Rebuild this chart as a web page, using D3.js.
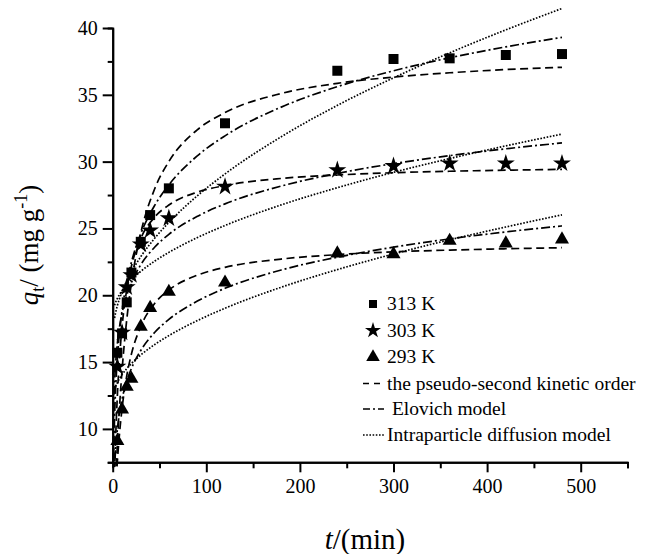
<!DOCTYPE html>
<html>
<head>
<meta charset="utf-8">
<script src="https://cdn.jsdelivr.net/npm/d3@7/dist/d3.min.js"></script>
<style>
  html, body { margin: 0; padding: 0; background: #fff; }
  svg { display: block; }
  text { font-family: "Liberation Serif", "Times New Roman", serif; fill: #000; }
</style>
</head>
<body>
<svg id="chart" width="647" height="554"></svg>
<script>
// ---------- data ----------
const tData = [5, 10, 15, 20, 30, 40, 60, 120, 240, 300, 360, 420, 480];
const q313 = [15.7, 17.15, 19.47, 21.7, 24.0, 26.0, 28.0, 32.87, 36.8, 37.68, 37.73, 37.98, 38.05];
const q303 = [14.65, 17.2, 20.6, 21.5, 23.8, 24.85, 25.76, 28.12, 29.37, 29.67, 29.87, 29.87, 29.87];
const q293 = [9.1, 11.45, 13.15, 13.75, 17.65, 19.05, 20.26, 20.95, 23.13, 23.08, 24.08, 23.88, 24.18];

// fitted-curve sample times and read curve values
const tFit = [0.3, 1, 2, 3, 4, 5, 7, 10, 15, 20, 30, 45, 60, 90, 120, 180, 240, 300, 360, 420, 480];
const pso313 = [0.66, 2.17, 4.11, 5.85, 7.42, 8.85, 11.34, 14.38, 18.17, 20.92, 24.65, 27.99, 30.01, 32.36, 33.67, 35.10, 35.86, 36.33, 36.65, 36.89, 37.06];
const pso303 = [1.24, 3.77, 6.69, 9.02, 10.93, 12.52, 15.01, 17.64, 20.42, 22.17, 24.25, 25.86, 26.75, 27.71, 28.21, 28.74, 29.00, 29.17, 29.28, 29.36, 29.42];
const pso293 = [0.64, 2.03, 3.74, 5.20, 6.47, 7.58, 9.42, 11.53, 13.96, 15.60, 17.67, 19.40, 20.39, 21.49, 22.09, 22.71, 23.04, 23.25, 23.38, 23.48, 23.56];
const elo313 = [3.71, 7.83, 10.87, 12.80, 14.21, 15.32, 17.02, 18.86, 20.96, 22.47, 24.60, 26.74, 28.26, 30.41, 31.93, 34.08, 35.61, 36.80, 37.77, 38.59, 39.30];
const elo303 = [7.48, 11.20, 13.42, 14.74, 15.68, 16.40, 17.50, 18.67, 20.00, 20.95, 22.28, 23.61, 24.56, 25.89, 26.84, 28.17, 29.12, 29.85, 30.45, 30.96, 31.40];
const elo293 = [2.50, 5.19, 7.15, 8.38, 9.27, 9.98, 11.07, 12.23, 13.57, 14.52, 15.87, 17.23, 18.19, 19.55, 20.52, 21.89, 22.85, 23.60, 24.22, 24.74, 25.19];
const ipd313 = [null, null, 18.30, 18.66, 18.96, 19.23, 19.69, 20.27, 21.08, 21.75, 22.89, 24.28, 25.45, 27.42, 29.08, 31.86, 34.21, 36.27, 38.14, 39.86, 41.46];
const ipd303 = [null, null, 19.25, 19.45, 19.62, 19.77, 20.02, 20.35, 20.79, 21.17, 21.79, 22.56, 23.21, 24.30, 25.22, 26.76, 28.05, 29.20, 30.23, 31.18, 32.06];
const ipd293 = [null, null, 12.94, 13.15, 13.32, 13.47, 13.73, 14.06, 14.51, 14.89, 15.53, 16.32, 16.98, 18.09, 19.03, 20.60, 21.92, 23.09, 24.15, 25.11, 26.02];

const xMajor = [0, 100, 200, 300, 400, 500];
const xMinor = [50, 150, 250, 350, 450, 550];
const yMajor = [10, 15, 20, 25, 30, 35, 40];
const yMinor = [7.5, 12.5, 17.5, 22.5, 27.5, 32.5, 37.5];

const seriesNames = ["313 K", "303 K", "293 K"];
const modelNames = ["the pseudo-second kinetic order", " Elovich model", "Intraparticle diffusion model"];

// ---------- drawing ----------
const svg = d3.select("#chart");
const x = d3.scaleLinear().domain([0, 550]).range([112.7, 627.5]);
const y = d3.scaleLinear().domain([7.5, 40]).range([462.3, 28]);

const dashStyles = ["8,4.5", "9,3,2,3", "1.6,1.6"];

svg.append("defs").append("clipPath").attr("id", "clip")
  .append("rect").attr("x", 112).attr("y", 0).attr("width", 535).attr("height", 467);

const line = d3.line()
  .defined(d => d[1] !== null)
  .x(d => x(d[0])).y(d => y(d[1]))
  .curve(d3.curveMonotoneX);

const fits = [
  [pso313, 0], [pso303, 0], [pso293, 0],
  [elo313, 1], [elo303, 1], [elo293, 1],
  [ipd313, 2], [ipd303, 2], [ipd293, 2]
];
const gLines = svg.append("g").attr("clip-path", "url(#clip)");
fits.forEach(([vals, m]) => {
  gLines.append("path")
    .datum(tFit.map((t, i) => [t, vals[i]]))
    .attr("d", line)
    .attr("fill", "none")
    .attr("stroke", "#000")
    .attr("stroke-width", 1.7)
    .attr("stroke-dasharray", dashStyles[m]);
});

// axes
const axisStyle = g => {
  g.selectAll("path.domain").attr("stroke-width", 2).attr("stroke", "#000");
  g.selectAll(".tick line").attr("stroke-width", 2).attr("stroke", "#000");
  g.selectAll("text").style("font-family", "'Liberation Serif', 'Times New Roman', serif").style("font-size", "20px").attr("fill", "#000");
};
svg.append("g").attr("transform", `translate(0,${y(7.5)})`)
  .call(d3.axisBottom(x).tickValues(xMinor).tickSize(6).tickFormat(""))
  .call(axisStyle);
svg.append("g").attr("transform", `translate(0,${y(7.5)})`)
  .call(d3.axisBottom(x).tickValues(xMajor).tickSize(10).tickSizeOuter(0).tickPadding(7).tickFormat(d3.format("d")))
  .call(axisStyle);
svg.append("g").attr("transform", `translate(${x(0)},0)`)
  .call(d3.axisLeft(y).tickValues(yMinor).tickSize(5).tickFormat(""))
  .call(axisStyle);
svg.append("g").attr("transform", `translate(${x(0)},0)`)
  .call(d3.axisLeft(y).tickValues(yMajor).tickSize(10).tickSizeOuter(0).tickPadding(5).tickFormat(d3.format("d")))
  .call(axisStyle);

// markers
const symbols = [d3.symbolSquare, d3.symbolStar, d3.symbolTriangle];
const sizes = [100, 100, 85];
[q313, q303, q293].forEach((vals, s) => {
  svg.append("g").selectAll("path")
    .data(tData.map((t, i) => [t, vals[i]]))
    .join("path")
    .attr("transform", d => `translate(${x(d[0])},${y(d[1])})`)
    .attr("d", d3.symbol().type(symbols[s]).size(sizes[s]))
    .attr("fill", "#000");
});

// legend
const leg = svg.append("g").attr("font-size", 19.5);
const legY = [303, 329.5, 356, 382.5, 408, 434];
const legSym = [64, 80, 80];
seriesNames.forEach((name, i) => {
  leg.append("path")
    .attr("transform", `translate(373,${legY[i] + 1})`)
    .attr("d", d3.symbol().type(symbols[i]).size(legSym[i]))
    .attr("fill", "#000");
  leg.append("text").attr("x", 387).attr("y", legY[i] + 7).text(name);
});
modelNames.forEach((name, i) => {
  const yy = legY[3 + i] + 1;
  leg.append("line").attr("x1", 363).attr("x2", 384).attr("y1", yy).attr("y2", yy)
    .attr("stroke", "#000").attr("stroke-width", 1.7)
    .attr("stroke-dasharray", i === 0 ? "6,5" : i === 1 ? "7,3,2,3" : "1.6,1.6");
  leg.append("text").attr("x", 387).attr("y", legY[3 + i] + 7).attr("xml:space", "preserve").text(name);
});

// axis titles
const xt = svg.append("text").attr("x", 365).attr("y", 549).attr("text-anchor", "middle").attr("font-size", 29);
xt.append("tspan").attr("font-style", "italic").text("t");
xt.append("tspan").text("/(min)");

const yt = svg.append("text").attr("transform", "translate(38,245) rotate(-90)").attr("text-anchor", "middle").attr("font-size", 27);
yt.append("tspan").attr("font-style", "italic").text("q");
yt.append("tspan").attr("font-size", 18).attr("dy", 6).text("t");
yt.append("tspan").attr("dy", -6).text("/ (mg g");
yt.append("tspan").attr("font-size", 18).attr("dy", -11).text("-1");
yt.append("tspan").attr("dy", 11).text(")");
</script>
</body>
</html>
